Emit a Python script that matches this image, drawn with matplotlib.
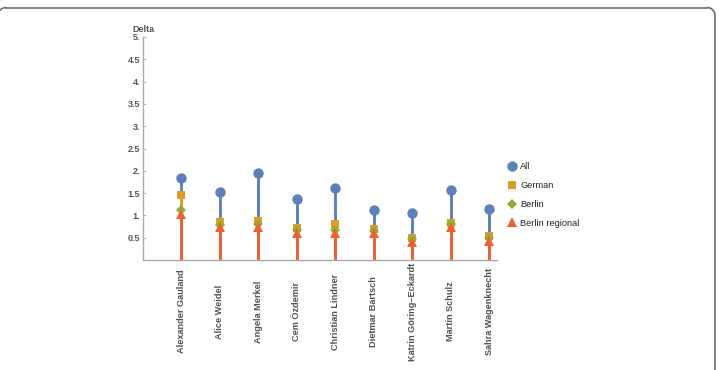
import matplotlib.pyplot as plt
from matplotlib.lines import Line2D
from matplotlib.patches import Arc

names = ["Alexander Gauland", "Alice Weidel", "Angela Merkel", "Cem Özdemir",
         "Christian Lindner", "Dietmar Bartsch", "Katrin Göring\u2013Eckardt",
         "Martin Schulz", "Sahra Wagenknecht"]
delta_all = [1.84, 1.52, 1.96, 1.37, 1.61, 1.11, 1.05, 1.56, 1.14]
delta_german = [1.46, 0.86, 0.88, 0.71, 0.81, 0.69, 0.50, 0.82, 0.54]
delta_berlin = [1.11, 0.79, 0.81, 0.67, 0.67, 0.65, 0.46, 0.80, 0.49]
delta_regional = [1.04, 0.74, 0.75, 0.60, 0.60, 0.60, 0.41, 0.75, 0.43]
series_labels = ["All", "German", "Berlin", "Berlin regional"]

plt.rcParams['font.family'] = ['Liberation Sans', 'DejaVu Sans']

W, H = 719, 370
fig = plt.figure(figsize=(W / 100, H / 100), dpi=100)

# background axes in pixel units, only for the rounded frame
bg = fig.add_axes([0, 0, 1, 1], zorder=-1)
bg.set_xlim(0, W)
bg.set_ylim(H, 0)
bg.axis('off')
r = 8
fx0, fx1, fy0 = -2, 715, 7.5
fkw = dict(color='#6e6e6e', linewidth=1.2)
bg.plot([fx0 + r, fx1 - r], [fy0, fy0], **fkw)
bg.plot([fx1, fx1], [fy0 + r, H + 5], **fkw)
bg.add_patch(Arc((fx0 + r, fy0 + r), 2 * r, 2 * r, theta1=180, theta2=270, **fkw))
bg.add_patch(Arc((fx1 - r, fy0 + r), 2 * r, 2 * r, theta1=270, theta2=360, **fkw))

ax = fig.add_axes([143 / W, (H - 260) / H, (497 - 143) / W, (260 - 37) / H])

colors = ['#5e81b5', '#e19c24', '#8fb032', '#eb6235']
markers = ['o', 's', 'D', '^']
msizes = [7.5, 5.2, 5.2, 6.5]
series = [delta_all, delta_german, delta_berlin, delta_regional]
x = list(range(1, len(names) + 1))

for vals, c in zip(series, colors):
    ax.vlines(x, 0, vals, color=c, linewidth=2.1, zorder=2)
for vals, c, m, ms in zip(series, colors, markers, msizes):
    ax.plot(x, vals, m, color=c, markersize=ms, markeredgewidth=0, zorder=3)

ax.set_xlim(0, 9.2)
ax.set_ylim(0, 5)
for s in ['top', 'right']:
    ax.spines[s].set_visible(False)
for s in ['left', 'bottom']:
    ax.spines[s].set_color('#aaaaaa')
    ax.spines[s].set_linewidth(1.0)

yt = [0.5, 1, 1.5, 2, 2.5, 3, 3.5, 4, 4.5, 5]
ax.set_yticks(yt)
ax.set_yticklabels([f"{v:g}." if v == int(v) else f"{v:g}" for v in yt],
                   fontsize=6.5, fontweight='bold', color='#555555')
ax.tick_params(axis='y', direction='in', length=2, width=0.6, color='#aaaaaa', pad=2)

# names are centred vertically in the band under the axis
ax.set_xticks(x)
ax.set_xticklabels(names, rotation=90, fontsize=6.6, fontweight='bold',
                   color='#505050', va='center', ha='center')
ax.tick_params(axis='x', length=0, pad=37)

ax.text(0.0, 1.015, "Delta", transform=ax.transAxes, fontsize=6.5,
        fontweight='bold', color='#555555', ha='center', va='bottom')

handles = [Line2D([], [], linestyle='none', marker=m, color=c, markersize=ms,
                  markeredgewidth=0) for c, m, ms in zip(colors, markers, msizes)]
fig.legend(handles, series_labels, loc='upper left',
           bbox_to_anchor=(498 / W, (H - 154) / H), frameon=False,
           prop={'size': 6.7}, labelcolor='#222222',
           handletextpad=0.3, labelspacing=1.05, handlelength=1.2)

fig.savefig("out.png", dpi=100)
